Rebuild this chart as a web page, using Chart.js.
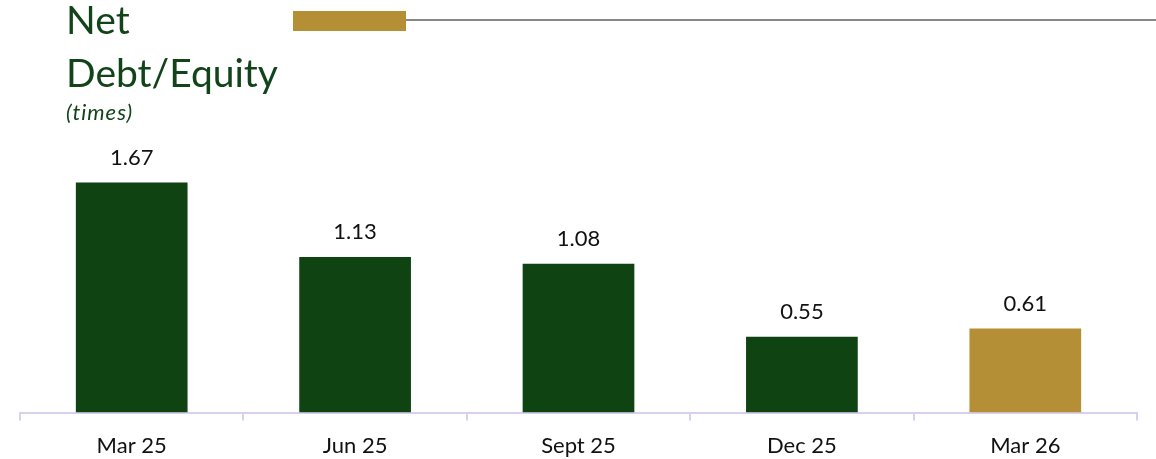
<!DOCTYPE html>
<html><head><meta charset="utf-8">
<script src="https://cdn.jsdelivr.net/npm/chart.js@4.4.0/dist/chart.umd.min.js"></script>
<style>
html,body{margin:0;padding:0;background:#fff;}
#wrap{position:relative;width:1156px;height:459px;}
canvas{position:absolute;left:0;top:0;}
.t{position:absolute;left:66px;color:#12441a;font-family:Lato,"Open Sans",sans-serif;white-space:nowrap;line-height:1;}
</style></head>
<body><div id="wrap">
<canvas id="c" width="1156" height="459"></canvas>
<div class="t" style="top:0px;font-size:39px;">Net</div>
<div class="t" style="top:53px;font-size:39px;">Debt/Equity</div>
<div class="t" style="top:101px;font-size:22px;font-style:italic;letter-spacing:1px;">(times)</div>
<div style="position:absolute;left:293px;top:11px;width:113px;height:20px;background:#b58f36;"></div>
<div style="position:absolute;left:406px;top:19px;width:750px;height:2px;background:#888;"></div>
</div>
<script>
const categories = ["Mar 25","Jun 25","Sept 25","Dec 25","Mar 26"];
const netDebtEquity = [1.67,1.13,1.08,0.55,0.61];
const barColors = ["#0f4312","#0f4312","#0f4312","#0f4312","#b58f36"];

const labelPlugin = {
  id:'vals',
  afterDatasetsDraw(chart){
    const ctx=chart.ctx; const meta=chart.getDatasetMeta(0);
    ctx.save(); ctx.fillStyle='#111'; ctx.font='22px Lato, "Open Sans", sans-serif';
    ctx.textAlign='center'; ctx.textBaseline='middle';
    meta.data.forEach((b,i)=>{ ctx.fillText(netDebtEquity[i].toFixed(2), b.x, b.y-25); });
    ctx.restore();
  }
};

new Chart(document.getElementById('c'),{
  type:'bar',
  data:{labels:categories,datasets:[{data:netDebtEquity,backgroundColor:barColors,categoryPercentage:1,barPercentage:0.5}]},
  options:{
    responsive:false,animation:false,
    layout:{padding:{left:20,right:19,top:137,bottom:-12}},
    plugins:{legend:{display:false},tooltip:{enabled:false}},
    scales:{
      y:{display:false,min:0,max:2},
      x:{
        grid:{drawOnChartArea:false,drawTicks:true,tickLength:8,color:'#d9d0ef',lineWidth:2,offset:true},
        border:{color:'#d9d0ef',width:2},
        ticks:{color:'#111',font:{family:'Lato, "Open Sans", sans-serif',size:22},padding:12}
      }
    }
  },
  plugins:[labelPlugin]
});
</script>
</body></html>
